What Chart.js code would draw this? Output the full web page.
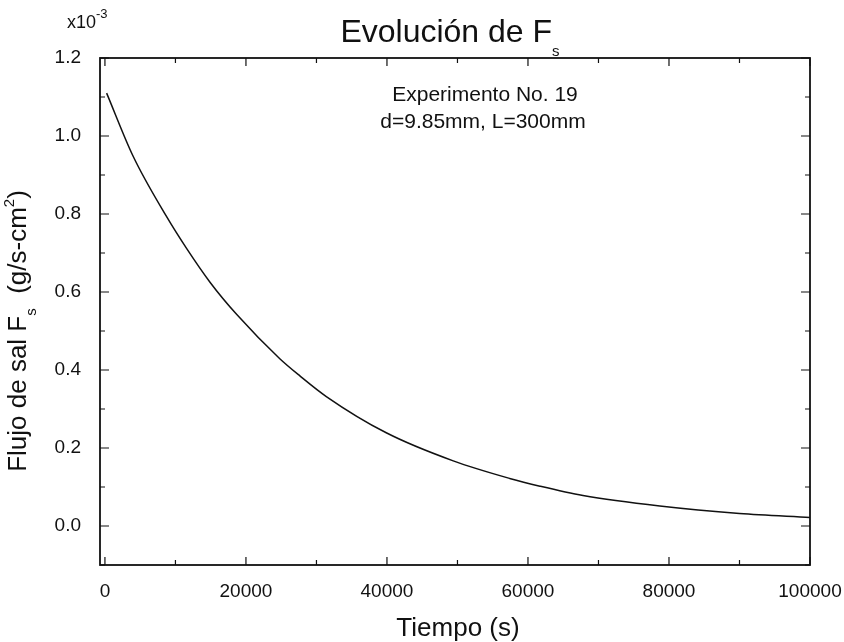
<!DOCTYPE html>
<html>
<head>
<meta charset="utf-8">
<script src="https://cdn.jsdelivr.net/npm/chart.js@4.4.1/dist/chart.umd.min.js"></script>
<style>
  html, body { margin: 0; padding: 0; background: #fff; }
  #wrap { width: 844px; height: 642px; }
</style>
</head>
<body>
<div id="wrap"><canvas id="fsChart" width="844" height="642"></canvas></div>
<script>
// Tiempo (s) and Flujo de sal Fs (x10^-3 g/s-cm2)
const tiempo = [240, 4000, 8750, 11600, 14900, 18700, 24800, 27650, 31400, 39900, 49400, 57400, 61700, 67800, 78700, 90000, 100000];
const flujo = [1.110, 0.948, 0.793, 0.711, 0.625, 0.542, 0.429, 0.385, 0.332, 0.239, 0.167, 0.122, 0.102, 0.078, 0.051, 0.032, 0.022];

// tick values (every tick gets a mark, majors get a label)
const xTicks = [0, 10000, 20000, 30000, 40000, 50000, 60000, 70000, 80000, 90000, 100000];
const yTicks = [-0.1, 0.0, 0.1, 0.2, 0.3, 0.4, 0.5, 0.6, 0.7, 0.8, 0.9, 1.0, 1.1, 1.2];
const xMajor = 20000;

const FONT = '"Liberation Sans", Arial, Helvetica, sans-serif';
const INK = '#111';

const points = tiempo.map((t, i) => ({ x: t, y: flujo[i] }));

const isYMajor = v => {
    const n = Math.round(v * 10);
    return n >= 0 && n % 2 === 0;
};

// draw a row of text pieces (for sub/superscripts)
function richText(ctx, parts, x, y, align) {
    let total = 0;
    parts.forEach(p => {
        ctx.font = p.size + 'px ' + FONT;
        p.w = ctx.measureText(p.t).width;
        total += p.w;
    });
    let cx = align === 'center' ? x - total / 2 : x;
    parts.forEach(p => {
        ctx.font = p.size + 'px ' + FONT;
        ctx.fillText(p.t, cx, y + (p.dy || 0));
        cx += p.w;
    });
}

const framePlugin = {
    id: 'frame',
    afterDraw(chart) {
        const ctx = chart.ctx;
        const a = chart.chartArea;
        const xs = chart.scales.x;
        const ys = chart.scales.y;
        ctx.save();
        ctx.strokeStyle = INK;
        ctx.fillStyle = INK;

        // inward ticks on all four sides
        ctx.lineWidth = 1.2;
        ctx.beginPath();
        xs.ticks.forEach(t => {
            const px = xs.getPixelForValue(t.value);
            const len = (t.value % xMajor === 0) ? 8 : 5;
            ctx.moveTo(px, a.bottom); ctx.lineTo(px, a.bottom - len);
            ctx.moveTo(px, a.top); ctx.lineTo(px, a.top + len);
        });
        ys.ticks.forEach(t => {
            const py = ys.getPixelForValue(t.value);
            const len = isYMajor(t.value) ? 9 : 5;
            ctx.moveTo(a.left, py); ctx.lineTo(a.left + len, py);
            ctx.moveTo(a.right, py); ctx.lineTo(a.right - len, py);
        });
        ctx.stroke();

        // frame
        ctx.lineWidth = 1.8;
        ctx.strokeRect(a.left, a.top, a.right - a.left, a.bottom - a.top);

        ctx.textBaseline = 'alphabetic';
        ctx.textAlign = 'left';

        // title
        richText(ctx, [
            { t: 'Evolución de F', size: 32 },
            { t: 's', size: 15, dy: 14 }
        ], 450, 42, 'center');

        // multiplier
        richText(ctx, [
            { t: 'x10', size: 18 },
            { t: '-3', size: 13, dy: -10 }
        ], 67, 28, 'left');

        // annotation
        richText(ctx, [{ t: 'Experimento No. 19', size: 21 }], 485, 101, 'center');
        richText(ctx, [{ t: 'd=9.85mm, L=300mm', size: 21 }], 483, 128, 'center');

        // x axis title
        richText(ctx, [{ t: 'Tiempo (s)', size: 26 }], 458, 636, 'center');

        // y axis title
        ctx.translate(26, 331);
        ctx.rotate(-Math.PI / 2);
        richText(ctx, [
            { t: 'Flujo de sal F', size: 26 },
            { t: 's', size: 15, dy: 10 },
            { t: '  (g/s-cm', size: 26 },
            { t: '2', size: 15, dy: -12 },
            { t: ')', size: 26 }
        ], 0, 0, 'center');

        ctx.restore();
    }
};

const ctx = document.getElementById('fsChart').getContext('2d');

const chart = new Chart(ctx, {
    type: 'line',
    data: {
        datasets: [{
            data: points,
            borderColor: INK,
            borderWidth: 1.5,
            pointRadius: 0,
            fill: false,
            cubicInterpolationMode: 'monotone'
        }]
    },
    options: {
        responsive: false,
        animation: false,
        layout: { padding: { top: 58, right: 34, left: 0, bottom: 0 } },
        plugins: {
            legend: { display: false },
            tooltip: { enabled: false }
        },
        scales: {
            x: {
                type: 'linear',
                min: -700,
                max: 100000,
                afterBuildTicks: s => { s.ticks = xTicks.map(v => ({ value: v })); },
                afterFit: s => { s.height = 77; s.paddingLeft = 0; s.paddingRight = 0; },
                grid: { display: false },
                border: { display: false },
                ticks: {
                    autoSkip: false,
                    maxRotation: 0,
                    padding: 7,
                    color: INK,
                    font: { family: FONT, size: 19 },
                    callback: v => (v % xMajor === 0) ? String(v) : ''
                }
            },
            y: {
                type: 'linear',
                min: -0.1,
                max: 1.2,
                afterBuildTicks: s => { s.ticks = yTicks.map(v => ({ value: v })); },
                afterFit: s => { s.width = 100; s.paddingTop = 0; s.paddingBottom = 0; },
                grid: { display: false },
                border: { display: false },
                ticks: {
                    autoSkip: false,
                    padding: 11,
                    color: INK,
                    font: { family: FONT, size: 19 },
                    callback: v => isYMajor(v) ? v.toFixed(1) : ''
                }
            }
        }
    },
    plugins: [framePlugin]
});
</script>
</body>
</html>
